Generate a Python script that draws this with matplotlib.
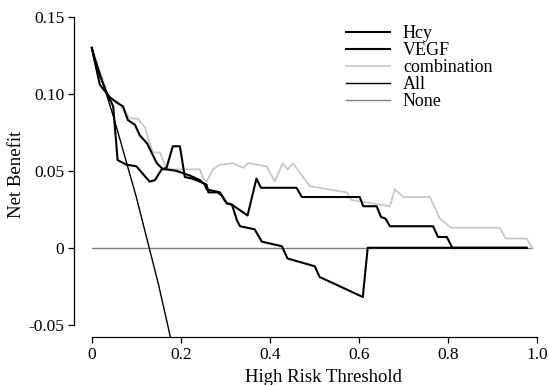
import matplotlib
matplotlib.use('Agg')
import matplotlib.pyplot as plt

plt.rcParams['font.family'] = ['Liberation Serif', 'DejaVu Serif']

# Decision curve values
hcy_x = [0, 0.01, 0.033, 0.048, 0.058, 0.078, 0.1, 0.13, 0.142, 0.157, 0.168,
         0.182, 0.198, 0.209, 0.225, 0.243, 0.258, 0.262, 0.283, 0.292, 0.303,
         0.315, 0.35, 0.37, 0.38, 0.46, 0.472, 0.602, 0.61, 0.64, 0.65, 0.66,
         0.67, 0.767, 0.778, 0.798, 0.81, 0.977]
hcy_y = [0.13, 0.118, 0.101, 0.092, 0.057, 0.054, 0.053, 0.043, 0.044, 0.051, 0.052,
         0.066, 0.066, 0.046, 0.045, 0.043, 0.041, 0.036, 0.036, 0.034, 0.029,
         0.028, 0.021, 0.045, 0.039, 0.039, 0.033, 0.033, 0.027, 0.027, 0.020, 0.019,
         0.014, 0.014, 0.007, 0.007, 0.0, 0.0]

vegf_x = [0, 0.018, 0.04, 0.058, 0.07, 0.081, 0.097, 0.108, 0.124, 0.146, 0.16,
          0.168, 0.19, 0.22, 0.243, 0.254, 0.258, 0.288, 0.303, 0.315, 0.326,
          0.333, 0.366, 0.382, 0.427, 0.44, 0.501, 0.512, 0.542, 0.609, 0.62, 0.977]
vegf_y = [0.13, 0.106, 0.098, 0.094, 0.092, 0.083, 0.080, 0.073, 0.068, 0.055, 0.051,
          0.051, 0.050, 0.047, 0.044, 0.041, 0.038, 0.036, 0.029, 0.028, 0.018,
          0.014, 0.012, 0.004, 0.001, -0.007, -0.012, -0.019, -0.023, -0.032, 0.0, 0.0]

comb_x = [0, 0.025, 0.04, 0.058, 0.085, 0.103, 0.12, 0.126, 0.137, 0.153, 0.168,
          0.243, 0.25, 0.258, 0.272, 0.288, 0.317, 0.34, 0.351, 0.393, 0.40, 0.411,
          0.429, 0.44, 0.452, 0.467, 0.49, 0.573, 0.584, 0.67, 0.681, 0.70, 0.76,
          0.782, 0.808, 0.917, 0.93, 0.977, 0.99]
comb_y = [0.13, 0.109, 0.096, 0.095, 0.084, 0.084, 0.078, 0.072, 0.062, 0.062, 0.051,
          0.051, 0.045, 0.043, 0.051, 0.054, 0.055, 0.052, 0.055, 0.053, 0.049, 0.043,
          0.055, 0.051, 0.055, 0.049, 0.040, 0.036, 0.031, 0.027, 0.038, 0.033, 0.033,
          0.019, 0.013, 0.013, 0.006, 0.006, 0.0]

all_x = [0, 0.05, 0.1, 0.15, 0.2]
all_y = [0.13, 0.084, 0.033, -0.024, -0.088]

none_x = [0, 0.99]
none_y = [0, 0]

xticks = [0, 0.2, 0.4, 0.6, 0.8, 1.0]
xtick_labels = ['0', '0.2', '0.4', '0.6', '0.8', '1.0']
yticks = [-0.05, 0, 0.05, 0.10, 0.15]
ytick_labels = ['-0.05', '0', '0.05', '0.10', '0.15']

fig = plt.figure(figsize=(5.49, 3.85), dpi=100)
ax = fig.add_axes([0.1348, 0.1247, 0.8754, 0.863])

ax.plot(none_x, none_y, color='#7f7f7f', lw=1.0, label='None', zorder=1)
ax.plot(comb_x, comb_y, color='#c8c8c8', lw=1.3, label='combination', zorder=2)
ax.plot(hcy_x, hcy_y, color='black', lw=1.5, label='Hcy', zorder=3)
ax.plot(vegf_x, vegf_y, color='black', lw=1.5, label='VEGF', zorder=3)
ax.plot(all_x, all_y, color='black', lw=1.0, label='All', zorder=4)

ax.set_xlim(-0.04, 1.04)
ax.set_ylim(-0.058, 0.158)

for s in ['top', 'right']:
    ax.spines[s].set_visible(False)
ax.spines['left'].set_bounds(-0.05, 0.15)
ax.spines['bottom'].set_bounds(0, 1.0)
ax.spines['left'].set_linewidth(0.9)
ax.spines['bottom'].set_linewidth(0.9)

ax.set_xticks(xticks)
ax.set_xticklabels(xtick_labels)
ax.set_yticks(yticks)
ax.set_yticklabels(ytick_labels)
ax.tick_params(direction='out', length=4, width=0.9, labelsize=12.5, pad=3)

ax.set_xlabel('High Risk Threshold', fontsize=13.5)
ax.set_ylabel('Net Benefit', fontsize=13.5)
ax.xaxis.set_label_coords(0.518, -0.095)
ax.yaxis.set_label_coords(-0.102, 0.49)

handles, labels = ax.get_legend_handles_labels()
order = ['Hcy', 'VEGF', 'combination', 'All', 'None']
hmap = dict(zip(labels, handles))
ax.legend([hmap[k] for k in order], order, loc='upper left',
          bbox_to_anchor=(0.539, 0.976), frameon=False, fontsize=13,
          handlelength=2.45, handletextpad=0.72, labelspacing=0.0,
          borderpad=0.2)

fig.savefig('out.png', dpi=100)
